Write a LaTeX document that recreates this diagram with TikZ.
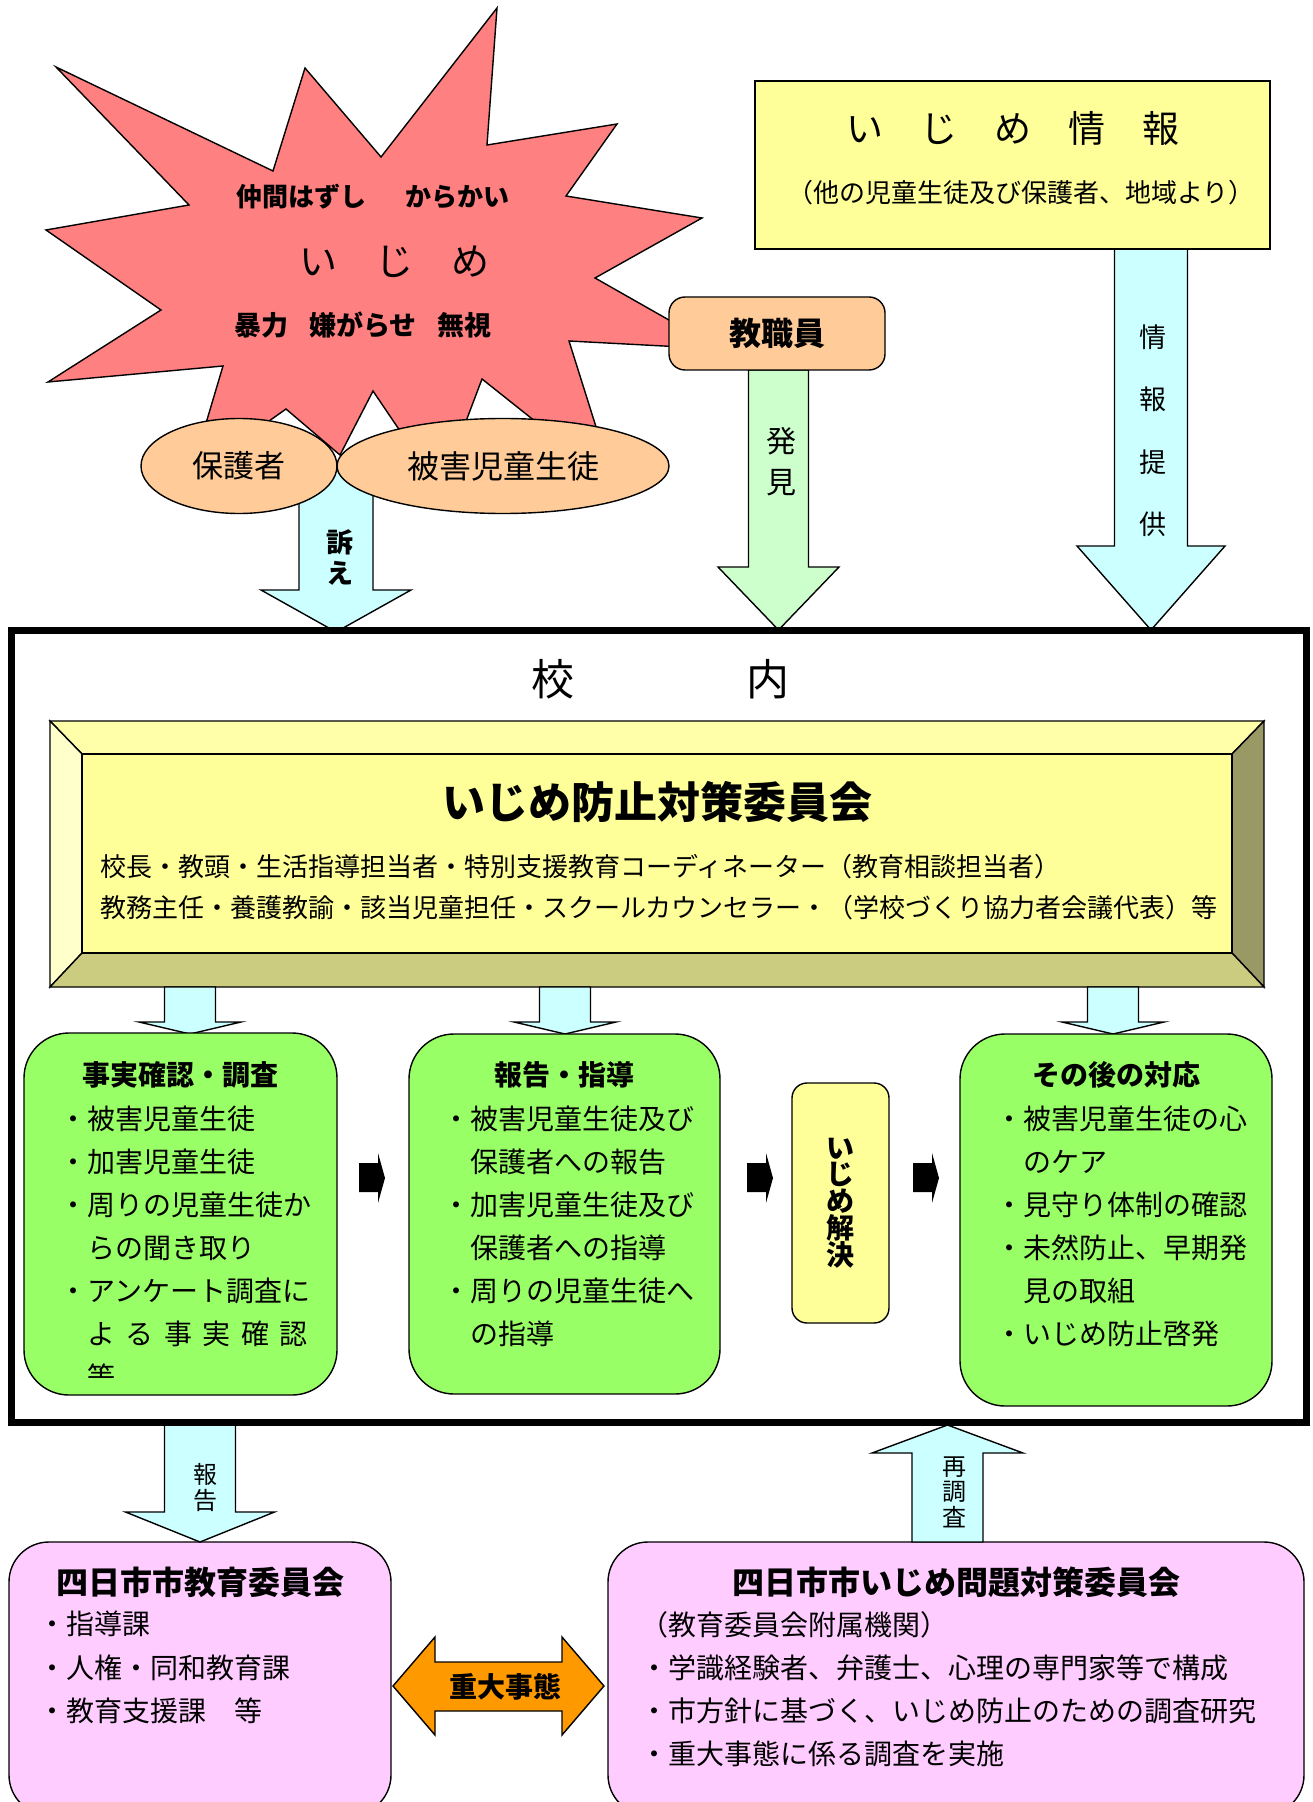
\documentclass[tikz,border=0pt]{standalone}
\usepackage{fontspec}
\setmainfont{Noto Sans CJK JP}
\usetikzlibrary{shapes.geometric}

\definecolor{burst}{RGB}{255,128,128}
\definecolor{peach}{RGB}{255,204,153}
\definecolor{pale}{RGB}{255,255,153}
\definecolor{sky}{RGB}{204,255,255}
\definecolor{mint}{RGB}{204,255,204}
\definecolor{leaf}{RGB}{153,255,102}
\definecolor{pinkish}{RGB}{255,204,255}
\definecolor{amber}{RGB}{255,153,0}
\definecolor{bevtop}{RGB}{255,255,170}
\definecolor{bevleft}{RGB}{255,255,204}
\definecolor{bevright}{RGB}{153,153,102}
\definecolor{bevbot}{RGB}{204,204,128}

\newcommand{\jsize}[2]{\fontsize{#1}{#2}\selectfont\lineskiplimit=-20pt\relax}
\newcommand{\wsp}{\hspace{5.25pt}}
% block arrow: fill, x, y start, y head base, y tip, half shaft, half head
\newcommand{\blockarrow}[7]{%
  \filldraw[fill=#1,line width=0.7pt] ({#2-#6},#3) -- ({#2+#6},#3) -- ({#2+#6},#4)
    -- ({#2+#7},#4) -- (#2,#5) -- ({#2-#7},#4) -- ({#2-#6},#4) -- cycle;}
\newcommand{\blackarrow}[1]{%
  \fill ({#1},1163) -- ({#1+19},1163) -- ({#1+19},1153) -- ({#1+26},1178)
    -- ({#1+19},1203) -- ({#1+19},1192) -- ({#1},1192) -- cycle;}

\tikzset{
  every node/.style={inner sep=0pt},
  plain/.style={draw,line width=0.7pt},
  ell/.style={ellipse,draw,line width=0.7pt,fill=peach},
  rbox/.style={draw,line width=0.7pt,rounded corners=22.5pt},
  list/.style={anchor=north west,align=left,font=\jsize{14}{21.5}},
}

\begin{document}
\begin{tikzpicture}[x=0.5pt,y=-0.5pt]
\useasboundingbox (0,0) rectangle (1312,1802);
\clip (0,0) rectangle (1312,1802);

% burst
\filldraw[fill=burst,line width=0.7pt] (497,8) -- (487,145) -- (617,124) -- (566,196)
  -- (702,218) -- (595,278) -- (720,349) -- (569,341) -- (614,484) -- (482,379)
  -- (440,490) -- (373,391) -- (340,455) -- (286,409) -- (190,477) -- (223,366)
  -- (48,382) -- (161,310) -- (46,230) -- (189,205) -- (56,67) -- (273,171)
  -- (305,68) -- (381,157) -- cycle;
\node [font=\bfseries\jsize{13}{15}] (nakama) at (373,197) {仲間はずし\hspace{19.5pt}からかい};
\node [font=\jsize{19}{21}] (ijime) at (394,262) {い　じ　め};
\node [font=\bfseries\jsize{13.5}{15}] (bouryoku) at (363,325) {暴力\hspace{10.5pt}嫌がらせ\hspace{10.5pt}無視};

% arrows into the school
\blockarrow{sky}{336}{466}{590}{632}{37}{75}
\blockarrow{mint}{778.5}{370}{567}{630}{30}{60.5}
\blockarrow{sky}{1151}{249}{546}{630}{36.5}{74}

\node [ell,minimum width=98pt,minimum height=47.5pt,font=\jsize{15.5}{17}] (hogosha) at (239,466) {保護者};
\node [ell,minimum width=166pt,minimum height=47.5pt,font=\jsize{16}{18}] (higai) at (503,466) {被害児童生徒};

\node [plain,rounded corners=8pt,fill=peach,minimum width=108pt,minimum height=36.5pt,font=\bfseries\jsize{16}{18}] (kyoshoku) at (777,333.5) {教職員};

\node [plain,fill=pale,minimum width=257.5pt,minimum height=84pt] (jouhou) at (1012.5,165) {};
\node [font=\jsize{18.5}{20}] (jtitle) at (1013,128) {い　じ　め　情　報};
\node [font=\jsize{13}{15}] (jsub) at (1021,193) {（他の児童生徒及び保護者、地域より）};

\node [font=\bfseries\jsize{13.5}{15.5},align=center] (uttae) at (340,557.5) {訴\\え};
\node [font=\jsize{15}{20.5},align=center] (hakken) at (781,461.5) {発\\見};
\node [font=\jsize{13.5}{31.25},align=center] (teikyo) at (1153,430.5) {情\\報\\提\\供};

% committee
\node [font=\jsize{21.5}{23}] (kounai) at (660,679) {校　　　　内};
\filldraw[fill=bevtop,line width=0.7pt] (50,721) -- (1264,721) -- (1232,754) -- (82,754) -- cycle;
\filldraw[fill=bevleft,line width=0.7pt] (50,721) -- (82,754) -- (82,953) -- (50,987) -- cycle;
\filldraw[fill=bevright,line width=0.7pt] (1264,721) -- (1264,987) -- (1232,953) -- (1232,754) -- cycle;
\filldraw[fill=bevbot,line width=0.7pt] (50,987) -- (82,953) -- (1232,953) -- (1264,987) -- cycle;
\node [plain,fill=pale,minimum width=575pt,minimum height=99.5pt] (iinkai) at (657,853.5) {};
\node [font=\bfseries\jsize{21.5}{23}] (ititle) at (657,802) {いじめ防止対策委員会};
\node [anchor=west,font=\jsize{13}{15}] (member1) at (100,867) {校長・教頭・生活指導担当者・特別支援教育コーディネーター（教育相談担当者）};
\node [anchor=west,font=\jsize{13}{15}] (member2) at (100,908) {教務主任・養護教諭・該当児童担任・スクールカウンセラー・（学校づくり協力者会議代表）等};

\blockarrow{sky}{190}{987}{1022}{1034}{25.5}{51}
\blockarrow{sky}{565}{987}{1022}{1034}{25.5}{51}
\blockarrow{sky}{1113}{987}{1022}{1034}{25.5}{51}

% three steps
\node [rbox,fill=leaf,minimum width=156.5pt,minimum height=181pt] (chousa) at (180.5,1214) {};
\node [rbox,fill=leaf,minimum width=155.5pt,minimum height=180pt] (shidou) at (564.5,1214) {};
\node [rbox,fill=leaf,minimum width=156pt,minimum height=186pt] (taiou) at (1116,1220) {};
\node [font=\bfseries\jsize{14}{16}] (chousatitle) at (180.5,1075) {事実確認・調査};
\node [font=\bfseries\jsize{14}{16}] (shidoutitle) at (564.5,1075) {報告・指導};
\node [font=\bfseries\jsize{14}{16}] (taioutitle) at (1116,1075) {その後の対応};
\begin{scope}
\clip (24,1033) rectangle (337,1377);
\node [list] (chousalist) at (59,1106) {・被害児童生徒\\・加害児童生徒\\・周りの児童生徒か\\　らの聞き取り\\・アンケート調査に\\　よ\wsp る\wsp 事\wsp 実\wsp 確\wsp 認\\　等};
\end{scope}
\node [list] (shidoulist) at (442,1106) {・被害児童生徒及び\\　保護者への報告\\・加害児童生徒及び\\　保護者への指導\\・周りの児童生徒へ\\　の指導};
\node [list] (taioulist) at (995,1106) {・被害児童生徒の心\\　のケア\\・見守り体制の確認\\・未然防止、早期発\\　見の取組\\・いじめ防止啓発};

\blackarrow{359}
\blackarrow{747}
\blackarrow{913}
\node [plain,rounded corners=7.5pt,fill=pale,minimum width=48.5pt,minimum height=120pt,font=\bfseries\jsize{14}{13.4},align=center] (kaiketsu) at (840.5,1203) {い\\じ\\め\\解\\決};

% city level
\node [rbox,rounded corners=20pt,fill=pinkish,minimum width=191pt,minimum height=136.5pt] (shikyoi) at (200,1678.5) {};
\node [rbox,rounded corners=20pt,fill=pinkish,minimum width=348pt,minimum height=136.5pt] (mondai) at (956,1678.5) {};
\node [font=\bfseries\jsize{16}{18}] (shikyoititle) at (200,1582) {四日市市教育委員会};
\node [font=\bfseries\jsize{16}{18}] (mondaititle) at (956,1582) {四日市市いじめ問題対策委員会};
\node [list,font=\jsize{14}{21.75}] (shikyoilist) at (38,1611) {・指導課\\・人権・同和教育課\\・教育支援課　等};
\node [list] (mondailist) at (640,1611) {（教育委員会附属機関）\\・学識経験者、弁護士、心理の専門家等で構成\\・市方針に基づく、いじめ防止のための調査研究\\・重大事態に係る調査を実施};

\blockarrow{sky}{200}{1422}{1512}{1542}{35.5}{74.5}
\blockarrow{sky}{947.5}{1542}{1453}{1425}{35.5}{75.5}
\node [font=\jsize{12}{13},align=center] (houkoku) at (205,1487) {報\\告};
\node [font=\jsize{12}{12.75},align=center] (saichousa) at (954,1492) {再\\調\\査};

\filldraw[fill=amber,line width=0.7pt] (393,1686) -- (435,1637) -- (435,1662) -- (562,1662)
  -- (562,1637) -- (604,1686) -- (562,1735) -- (562,1711) -- (435,1711) -- (435,1735) -- cycle;
\node [font=\bfseries\jsize{14}{16}] (juudai) at (505,1687) {重大事態};

% school frame
\draw[line width=3.5pt] (11,630) rectangle (1306,1422);

\end{tikzpicture}
\end{document}
